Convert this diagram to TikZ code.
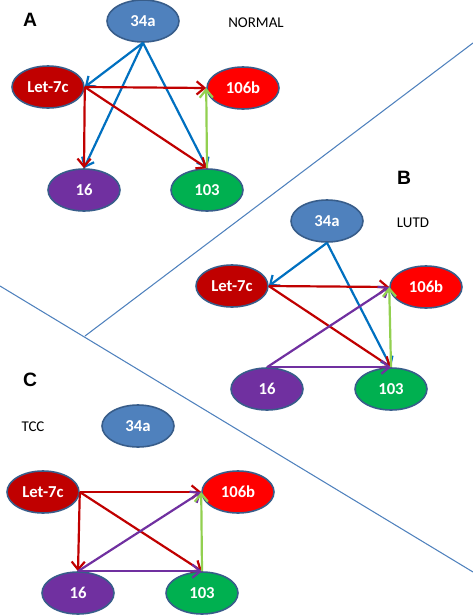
\documentclass[tikz,border=0pt]{standalone}
\usepackage{fontspec}
\setmainfont{Carlito}
\newfontfamily\panelfont{Liberation Sans}
\usetikzlibrary{shapes.geometric,arrows.meta}

\definecolor{mirblue}{RGB}{79,129,189}
\definecolor{mirdark}{RGB}{192,0,0}
\definecolor{mirred}{RGB}{255,0,0}
\definecolor{mirpurple}{RGB}{112,48,160}
\definecolor{mirgreen}{RGB}{0,176,80}
\definecolor{rimblue}{RGB}{56,93,138}
\definecolor{arrblue}{RGB}{0,112,192}
\definecolor{arrgreen}{RGB}{146,208,80}

\begin{document}
\begin{tikzpicture}[x=0.02cm,y=-0.02cm,
  mir/.style={ellipse,draw=rimblue,line width=0.9pt,minimum width=1.44cm,minimum height=0.84cm,
    inner sep=0pt,text=white,font=\bfseries\fontsize{9.5}{10}\selectfont},
  lnk/.style={line width=1.25pt,-{Straight Barb[length=4.5pt,width=7.5pt]}},
  panel/.style={font=\panelfont\bfseries\fontsize{11}{12}\selectfont},
  cond/.style={font=\fontsize{8.5}{10}\selectfont}]
\useasboundingbox (0,0) rectangle (473,616);
%\draw[step=50,gray,very thin] (0,0) grid (473,616);

% dividers
\coordinate (d1a) at (85,336);
\coordinate (d1b) at (473,43);
\coordinate (d2a) at (0,286);
\coordinate (d2b) at (473,572);
\draw[mirblue,line width=0.6pt] (d1a)--(d1b);
\draw[mirblue,line width=0.6pt] (d2a)--(d2b);

% A
\node[panel] (labA) at (30,20) {A};
\node[cond] (normal) at (256,23) {NORMAL};
\node[mir,fill=mirblue] (a34a) at (143,21) {34a};
\node[mir,fill=mirdark] (alet) at (48,87) {Let-7c};
\node[mir,fill=mirred] (a106b) at (243,88) {106b};
\node[mir,fill=mirpurple] (a16) at (84,190) {16};
\node[mir,fill=mirgreen] (a103) at (207,190) {103};

\draw[lnk,arrblue] (a34a.south)--(alet.east);
\draw[lnk,arrblue] (a34a.south)--(a16.north);
\draw[lnk,arrblue] (a34a.south)--(a103.north);
\draw[lnk,mirdark] (alet.east)--(a106b.west);
\draw[lnk,mirdark] (alet.east)--(a16.north);
\draw[lnk,mirdark] (alet.east)--(a103.north);
\draw[lnk,arrgreen] (a103.north)--(a106b.west);

% B
\node[panel] (labB) at (404,178) {B};
\node[cond] (lutd) at (413,223) {LUTD};
\node[mir,fill=mirblue] (b34a) at (327,221) {34a};
\node[mir,fill=mirdark] (blet) at (232,286) {Let-7c};
\node[mir,fill=mirred] (b106b) at (426,287) {106b};
\node[mir,fill=mirpurple] (b16) at (267,389) {16};
\node[mir,fill=mirgreen] (b103) at (391,389) {103};

\draw[lnk,arrblue] (b34a.south)--(blet.east);
\draw[lnk,arrblue] (b34a.south)--(b103.north);
\draw[lnk,mirdark] (blet.east)--(b106b.west);
\draw[lnk,mirdark] (blet.east)--(b103.north);
\draw[lnk,mirpurple] (b16.north)--(b106b.west);
\draw[lnk,mirpurple] (b16.north)--(b103.north);
\draw[lnk,arrgreen] (b103.north)--(b106b.west);

% C
\node[panel] (labC) at (30,380) {C};
\node[cond] (tcc) at (33,427) {TCC};
\node[mir,fill=mirblue] (c34a) at (138,426) {34a};
\node[mir,fill=mirdark] (clet) at (43,492) {Let-7c};
\node[mir,fill=mirred] (c106b) at (238,492) {106b};
\node[mir,fill=mirpurple] (c16) at (78,593) {16};
\node[mir,fill=mirgreen] (c103) at (202,593) {103};

\draw[lnk,mirdark] (clet.east)--(c106b.west);
\draw[lnk,mirdark] (clet.east)--(c16.north);
\draw[lnk,mirdark] (clet.east)--(c103.north);
\draw[lnk,mirpurple] (c16.north)--(c106b.west);
\draw[lnk,mirpurple] (c16.north)--(c103.north);
\draw[lnk,arrgreen] (c103.north)--(c106b.west);

\end{tikzpicture}
\end{document}
